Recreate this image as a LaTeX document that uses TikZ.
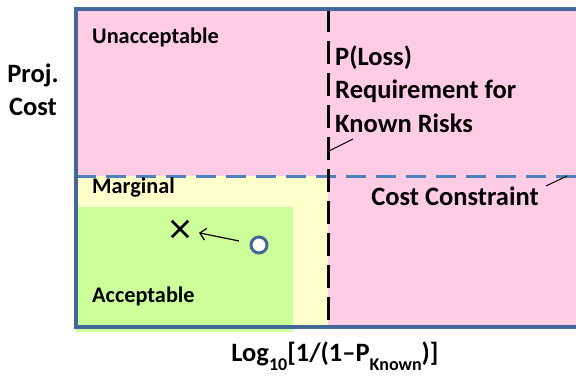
\documentclass[tikz,border=0pt]{standalone}
\usepackage{fontspec}
\setmainfont{Carlito}
\usetikzlibrary{arrows.meta}
\definecolor{zonepink}{HTML}{FFCCE6}
\definecolor{zoneyellow}{HTML}{FFFFCC}
\definecolor{zonegreen}{HTML}{CCFF99}
\definecolor{framebl}{HTML}{41679B}
\definecolor{limitbl}{HTML}{4F81BD}
\newcommand{\lowsub}[1]{\raisebox{-0.32em}{\fontsize{18}{20}\selectfont #1}}
\tikzset{
  lbl/.style={font=\fontsize{22.3}{26}\selectfont\bfseries, inner sep=0pt},
  biglbl/.style={font=\fontsize{26.5}{31}\selectfont\bfseries, inner sep=0pt},
  leader/.style={draw=black, line width=1pt},
}
\begin{document}
\begin{tikzpicture}[x=1pt, y=-1pt]
  \useasboundingbox (0,0) rectangle (576,383);
  % regions
  \fill[zonepink] (76,9) rectangle (590,327);
  \fill[zoneyellow] (76,176) rectangle (328,327);
  \fill[zonegreen] (76,207) rectangle (293,332);
  % cost constraint (blue dashed) and P(Loss) requirement (black dashed)
  \coordinate (hl) at (76,176);
  \coordinate (hr) at (590,176);
  \coordinate (vt) at (328,9);
  \coordinate (vb) at (328,323);
  \draw[limitbl, line width=3pt, dash pattern=on 20pt off 10pt] (hl) -- (hr);
  \draw[black, line width=3pt, dash pattern=on 23pt off 9pt] (vt) -- (vb);
  % frame
  \draw[framebl, line width=3.2pt] (590,9) -- (76,9) -- (76,327) -- (590,327);
  % axis titles
  \node[biglbl] (proj) at (33,75) {Proj.};
  \node[biglbl] (cost) at (33,107) {Cost};
  \node[biglbl] (xlab) at (335,356) {Log\lowsub{10}[1/(1–P\lowsub{Known})]};
  % zone labels
  \node[lbl, anchor=west] (unacc) at (92,37) {Unacceptable};
  \node[lbl, anchor=west] (marg) at (92,188) {Marginal};
  \node[lbl, anchor=west] (acc) at (92,296) {Acceptable};
  % line labels
  \node[biglbl, anchor=west] (ploss1) at (335,58) {P(Loss)};
  \node[biglbl, anchor=west] (ploss2) at (335,91) {Requirement for};
  \node[biglbl, anchor=west] (ploss3) at (335,123) {Known Risks};
  \node[biglbl] (cc) at (455,196) {Cost Constraint};
  \coordinate (pl0) at (329,151);
  \coordinate (pl1) at (353,139);
  \draw[leader] (pl0) -- (pl1);
  \coordinate (cc0) at (546,186);
  \coordinate (cc1) at (567,176);
  \draw[leader] (cc0) -- (cc1);
  % design point moving toward the target
  \node[circle, draw=framebl, fill=white, line width=3pt, minimum size=16pt, inner sep=0pt] (pt) at (259,245) {};
  \node[inner sep=0pt, minimum size=16pt] (tgt) at (180,229) {};
  \draw[black, line width=2.8pt] (tgt.south west) -- (tgt.north east)
        (tgt.north west) -- (tgt.south east);
  \draw[black, line width=1.2pt, -{Straight Barb[length=6pt, width=12pt]}, shorten <=11pt, shorten >=11pt] (pt) -- (tgt);
\end{tikzpicture}
\end{document}
